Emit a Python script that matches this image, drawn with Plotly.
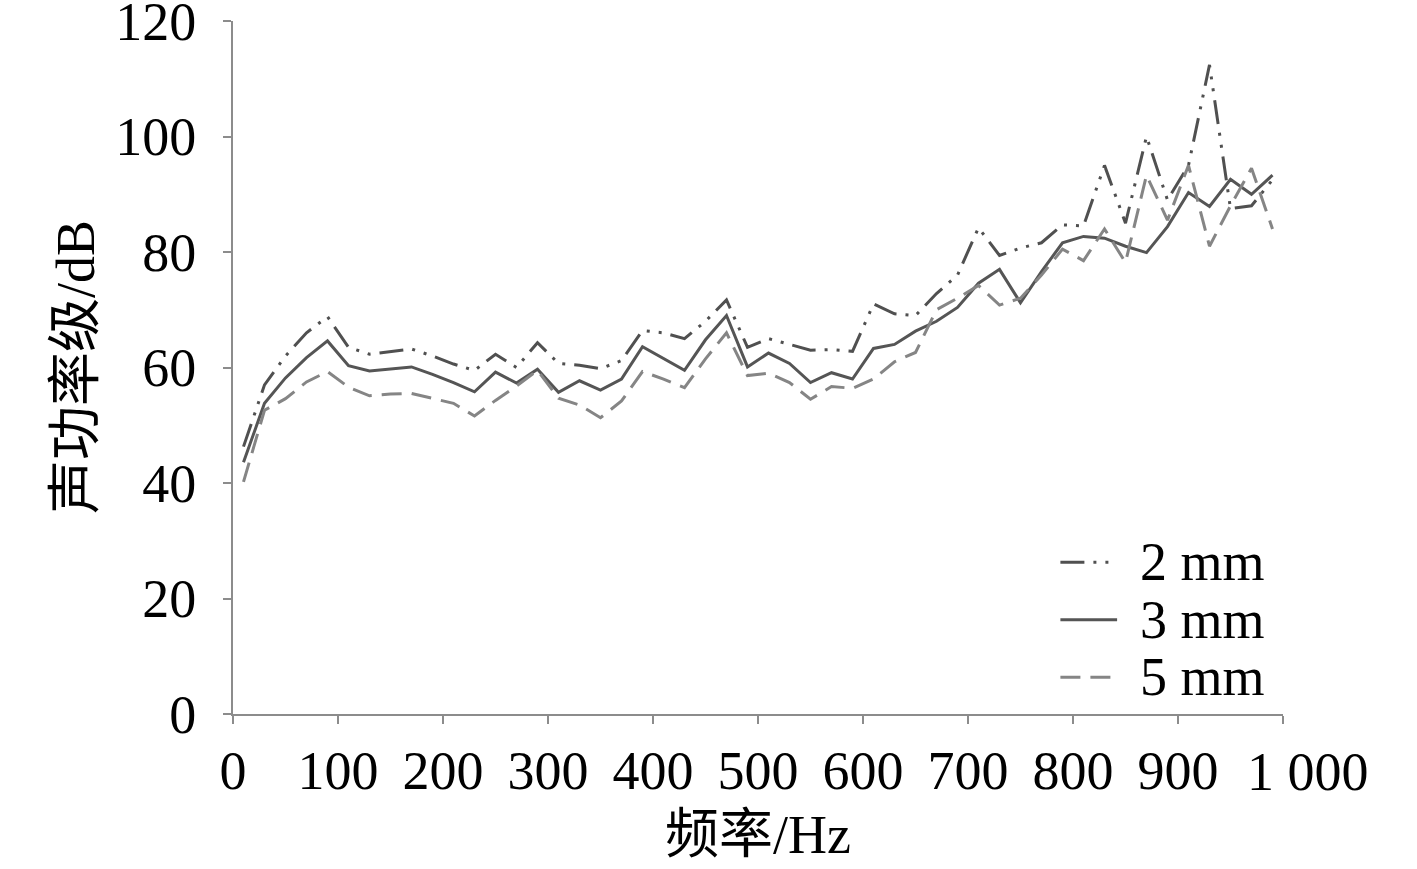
import plotly.graph_objects as go

# Frequenz in Hz
freq = [10, 30, 50, 70, 90, 110, 130, 150, 170, 190,
        210, 230, 250, 270, 290, 310, 330, 350, 370, 390,
        410, 430, 450, 470, 490, 510, 530, 550, 570, 590,
        610, 630, 650, 670, 690, 710, 730, 750, 770, 790,
        810, 830, 850, 870, 890, 910, 930, 950, 970, 990]

# Schallleistungspegel in dB
level_2mm = [46.3, 57.0, 62.0, 66.0, 68.8, 63.5, 62.3, 62.7, 63.2, 62.0,
             60.6, 59.5, 62.3, 60.0, 64.3, 60.7, 60.4, 59.8, 61.2, 66.4,
             66.0, 65.0, 68.0, 71.7, 63.5, 65.0, 64.0, 63.0, 63.1, 62.8,
             71.0, 69.3, 69.0, 72.8, 76.0, 84.2, 79.4, 80.7, 81.6, 84.7,
             84.5, 95.0, 85.0, 100.0, 89.0, 95.0, 112.4, 87.5, 88.0, 92.5]

level_3mm = [43.6, 53.8, 58.2, 61.7, 64.6, 60.3, 59.4, 59.7, 60.1, 58.8,
             57.4, 55.8, 59.2, 57.3, 59.7, 55.7, 57.7, 56.1, 58.0, 63.6,
             61.6, 59.5, 64.8, 69.0, 60.1, 62.5, 60.7, 57.4, 59.1, 58.0,
             63.3, 64.0, 66.3, 68.0, 70.4, 74.6, 77.0, 71.2, 76.6, 81.6,
             82.7, 82.4, 81.0, 79.9, 84.4, 90.3, 87.9, 92.6, 90.0, 93.3]

level_5mm = [40.2, 52.6, 54.6, 57.5, 59.3, 56.6, 55.1, 55.4, 55.5, 54.7,
             53.8, 51.6, 54.3, 56.8, 59.5, 54.7, 53.5, 51.3, 54.2, 59.3,
             58.0, 56.5, 61.5, 66.0, 58.6, 59.0, 57.4, 54.5, 56.7, 56.4,
             58.0, 61.0, 62.6, 70.0, 72.0, 74.2, 70.8, 72.0, 76.0, 80.5,
             78.5, 84.0, 78.2, 93.3, 85.5, 95.0, 81.0, 88.0, 94.5, 84.0]

x_ticks = [0, 100, 200, 300, 400, 500, 600, 700, 800, 900, 1000]
# "1 000" steht im Original rechts vom Tick -> eigene Annotation
x_labels = ["0", "100", "200", "300", "400", "500", "600", "700", "800", "900", ""]
last_label = "1 000"
y_ticks = [0, 20, 40, 60, 80, 100, 120]

series = [
    ("2 mm", level_2mm, "#505050", "24px,9px,3px,9px,3px,9px"),
    ("3 mm", level_3mm, "#555555", "solid"),
    ("5 mm", level_5mm, "#858585", "20px,10px"),
]

FONT = "Liberation Serif, Times New Roman, Noto Sans CJK SC, serif"

fig = go.Figure()

for name, values, color, dash in series:
    fig.add_trace(go.Scatter(
        x=freq,
        y=values,
        mode="lines",
        name=name,
        line=dict(color=color, width=3, dash=dash),
        showlegend=False
    ))

# Legende von Hand (Linienmuster + Text)
legend_y = [0.219, 0.136, 0.053]
for (name, values, color, dash), ly in zip(series, legend_y):
    fig.add_shape(type="line", xref="paper", yref="paper",
                  x0=0.788, x1=0.842, y0=ly, y1=ly,
                  line=dict(color=color, width=3, dash=dash))
    fig.add_annotation(xref="paper", yref="paper", x=0.862, y=ly,
                       text=name, showarrow=False, xanchor="left", yanchor="middle",
                       font=dict(family=FONT, size=54, color="black"))

axis_style = dict(
    showline=True, linecolor="#8c8c8c", linewidth=2,
    ticks="outside", ticklen=8, tickwidth=2, tickcolor="#8c8c8c",
    showgrid=False, zeroline=False, automargin=False,
    ticklabeloverflow="allow",
    tickfont=dict(family=FONT, size=54, color="black"),
)

fig.update_layout(
    width=1417, height=869,
    margin=dict(l=233, r=134, t=21, b=155),
    plot_bgcolor="white", paper_bgcolor="white",
    xaxis=dict(range=[0, 1000], tickvals=x_ticks, ticktext=x_labels, tickangle=0,
               **axis_style),
    yaxis=dict(range=[0, 120], tickvals=y_ticks, ticklabelstandoff=16,
               **axis_style),
)

fig.add_annotation(xref="x", yref="paper", x=x_ticks[-1], y=-0.083, xshift=25,
                   text=last_label, showarrow=False, xanchor="center", yanchor="middle",
                   font=dict(family=FONT, size=54, color="black"))

# Achsentitel
fig.add_annotation(xref="paper", yref="paper", x=0.5, y=-0.175,
                   text="频率/Hz", showarrow=False, xanchor="center", yanchor="middle",
                   font=dict(family=FONT, size=54, color="black"))
fig.add_annotation(xref="paper", yref="paper", x=-0.15, y=0.5, textangle=-90,
                   text="声功率级/dB", showarrow=False, xanchor="center", yanchor="middle",
                   font=dict(family=FONT, size=54, color="black"))

# body-Rand entfernen, damit die Figur bei (0,0) beginnt
fig.write_html("out.html", config={"displayModeBar": False},
               post_script="document.body.style.margin='0';")
